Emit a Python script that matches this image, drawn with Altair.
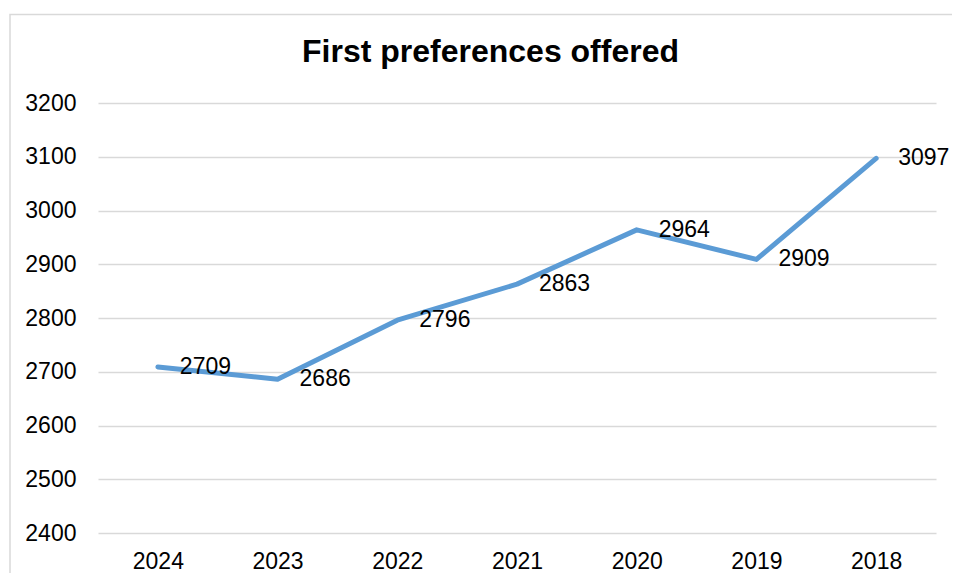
import altair as alt
import pandas as pd

years = ["2024", "2023", "2022", "2021", "2020", "2019", "2018"]
offers = [2709, 2686, 2796, 2863, 2964, 2909, 3097]
title_text = "First preferences offered"
y_ticks = [2400, 2500, 2600, 2700, 2800, 2900, 3000, 3100, 3200]

df = pd.DataFrame({"year": years, "offers": offers})

FONT = "Liberation Sans"
W, H = 838, 430

x_enc = alt.X(
    "year:N",
    sort=years,
    scale=alt.Scale(type="point", padding=0.5),
    axis=alt.Axis(
        title=None, domain=False, ticks=False, tickSize=0, grid=False,
        labelFont=FONT, labelFontSize=23, labelColor="#000000",
        labelPadding=17, labelAngle=0,
    ),
)
y_enc = alt.Y(
    "offers:Q",
    scale=alt.Scale(domain=[2400, 3200], nice=False, zero=False),
    axis=alt.Axis(
        title=None, domain=False, ticks=False, tickSize=0,
        values=y_ticks, format="d",
        labelFont=FONT, labelFontSize=23, labelColor="#000000",
        labelPadding=22,
        gridColor="#d9d9d9", gridWidth=1.4,
    ),
)

base = alt.Chart(df)

line = base.mark_line(
    color="#5B9BD5", strokeWidth=5, strokeCap="round", strokeJoin="round"
).encode(x=x_enc, y=y_enc)

labels = base.mark_text(
    align="left", baseline="middle", dx=22,
    font=FONT, fontSize=23, color="#000000",
).encode(x=alt.X("year:N", sort=years), y="offers:Q", text="offers:Q")

border_df = pd.DataFrame({"k": [0]})
border = alt.Chart(border_df).mark_rect(
    fill=None, fillOpacity=0, stroke="#d9d9d9", strokeWidth=1.5, clip=False
).encode(
    x=alt.value(-88), x2=alt.value(1200),
    y=alt.value(-88.5), y2=alt.value(800),
)

title_df = pd.DataFrame({"t": [title_text]})
title = alt.Chart(title_df).mark_text(
    align="center", baseline="alphabetic",
    font=FONT, fontSize=32, fontWeight="bold", color="#000000",
).encode(
    x=alt.value(392.5), y=alt.value(-40.7), text="t:N",
)

chart = alt.layer(border, line, labels, title).properties(
    width=W, height=H,
    autosize=alt.AutoSizeParams(type="none"),
    padding={"left": 90, "top": 95, "right": 16, "bottom": 40},
    background="#ffffff",
).configure_view(stroke=None)

chart.save("out.html", embed_options={"renderer": "svg", "actions": False})
